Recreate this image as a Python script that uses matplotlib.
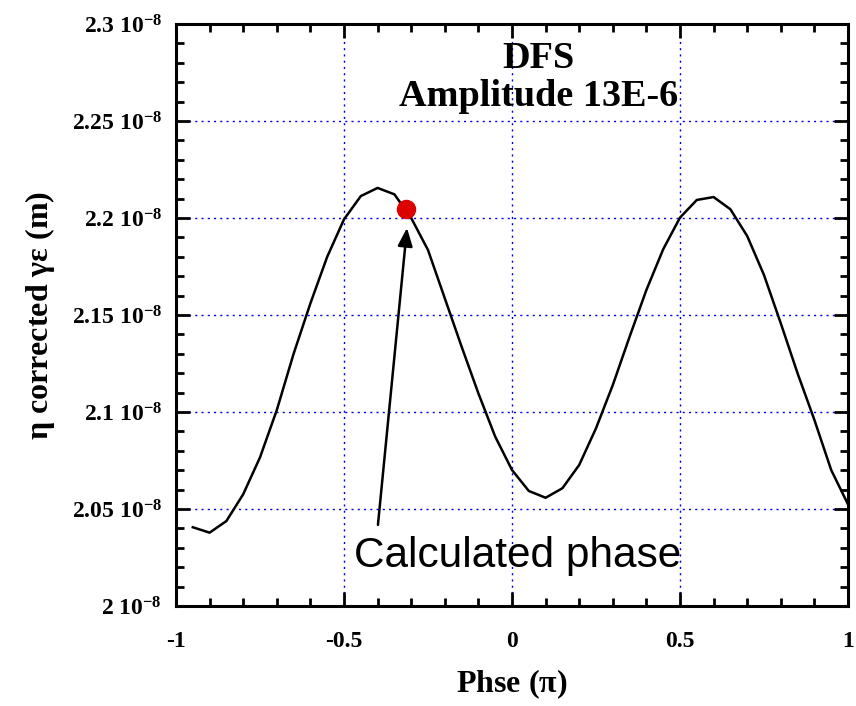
import numpy as np
import matplotlib
matplotlib.use("Agg")
import matplotlib.pyplot as plt
from matplotlib.ticker import FixedLocator, MultipleLocator, FixedFormatter

plt.rcParams['font.family'] = ['Liberation Serif', 'DejaVu Serif']
plt.rcParams['mathtext.fontset'] = 'custom'
plt.rcParams['mathtext.rm'] = 'Liberation Serif:bold'
plt.rcParams['mathtext.bf'] = 'Liberation Serif:bold'
plt.rcParams['mathtext.default'] = 'bf'

# Data (phase in units of pi, emittance in units of 1e-8 m)
phase = [-0.95, -0.9, -0.85, -0.8, -0.75, -0.7, -0.65, -0.6, -0.55, -0.5,
         -0.45, -0.4, -0.35, -0.3, -0.25, -0.2, -0.15, -0.1, -0.05, 0.0,
         0.05, 0.1, 0.15, 0.2, 0.25, 0.3, 0.35, 0.4, 0.45, 0.5,
         0.55, 0.6, 0.65, 0.7, 0.75, 0.8, 0.85, 0.9, 0.95, 1.0]
emit_e8 = [2.0406, 2.0378, 2.0438, 2.0576, 2.0766, 2.1010, 2.1300, 2.1560, 2.1800, 2.1993,
           2.2113, 2.2155, 2.2122, 2.2000, 2.1835, 2.1586, 2.1337, 2.1096, 2.0873, 2.0701,
           2.0593, 2.0558, 2.0607, 2.0727, 2.0916, 2.1139, 2.1388, 2.1629, 2.1839, 2.2002,
           2.2093, 2.2108, 2.2045, 2.1907, 2.1706, 2.1457, 2.1199, 2.0959, 2.0701, 2.0524]
calc_phase = -0.315
calc_emit_e8 = 2.2047

x_ticks = [-1, -0.5, 0, 0.5, 1]
x_tick_labels = ['-1', '-0.5', '0', '0.5', '1']
y_ticks_e8 = [2.0, 2.05, 2.1, 2.15, 2.2, 2.25, 2.3]
y_tick_labels = [r'2 10$^{-8}$', r'2.05 10$^{-8}$', r'2.1 10$^{-8}$', r'2.15 10$^{-8}$',
                 r'2.2 10$^{-8}$', r'2.25 10$^{-8}$', r'2.3 10$^{-8}$']

fig = plt.figure(figsize=(8.56, 7.06), dpi=100)
ax = fig.add_axes([176/856, 1-606/706, (848-176)/856, (606-24)/706])

y = np.array(emit_e8) * 1e-8
yt = np.array(y_ticks_e8) * 1e-8

ax.set_xlim(-1, 1)
ax.set_ylim(yt[0], yt[-1])

# grid
for gx in x_ticks[1:-1]:
    ax.axvline(gx, color='#0000ee', linestyle=(0, (1.5, 3)), linewidth=1.0, zorder=1)
for gy in yt[1:-1]:
    ax.axhline(gy, color='#0000ee', linestyle=(0, (1.5, 3)), linewidth=1.0, zorder=1)

ax.plot(phase, y, color='black', linewidth=1.8, zorder=3)
ax.plot([calc_phase], [calc_emit_e8 * 1e-8], 'o', color='#dd0000', markersize=13, zorder=4)

ax.annotate('', xy=(-0.3125, 2.1949e-8), xytext=(-0.399, 2.0418e-8),
            arrowprops=dict(arrowstyle='-|>,head_length=1.1,head_width=0.45',
                            color='black', linewidth=1.8, shrinkA=0, shrinkB=0), zorder=5)
ax.text(-0.47, 2.0201e-8, 'Calculated phase', fontsize=30.5, family=['Liberation Sans'],
        ha='left', va='baseline', zorder=5)
ax.text(0.08, 2.2725e-8, 'DFS\nAmplitude 13E-6', fontsize=27.5, fontweight='bold',
        ha='center', va='center', linespacing=1.1, zorder=5)

ax.xaxis.set_major_locator(FixedLocator(x_ticks))
ax.xaxis.set_major_formatter(FixedFormatter(x_tick_labels))
ax.xaxis.set_minor_locator(MultipleLocator(0.1))
ax.yaxis.set_major_locator(FixedLocator(yt))
ax.yaxis.set_major_formatter(FixedFormatter(y_tick_labels))
ax.yaxis.set_minor_locator(MultipleLocator(0.01e-8))

ax.tick_params(which='both', direction='in', top=True, right=True, width=2, color='black')
ax.tick_params(which='major', length=10)
ax.tick_params(which='minor', length=6)
ax.tick_params(axis='x', which='major', labelsize=17, pad=18)
ax.tick_params(axis='y', which='major', labelsize=17, pad=10)
for lab in ax.get_xticklabels() + ax.get_yticklabels():
    lab.set_fontweight('bold')

for s in ax.spines.values():
    s.set_linewidth(2.2)

ax.set_xlabel(r'Phse ($\mathbf{\pi}$)', fontsize=23, fontweight='bold', labelpad=11)
ax.set_ylabel(r'$\mathbf{\eta}$ corrected $\mathbf{\gamma\epsilon}$ (m)', fontsize=23,
              fontweight='bold', labelpad=11)

fig.savefig('out.png', dpi=100)
